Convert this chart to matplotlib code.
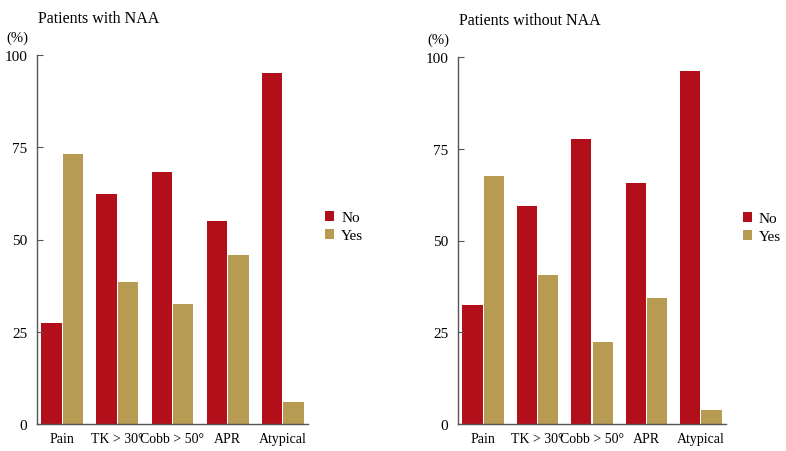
import matplotlib.pyplot as plt
import numpy as np

plt.rcParams['font.family'] = ['Liberation Serif', 'DejaVu Serif']

categories = ["Pain", "TK > 30°", "Cobb > 50°", "APR", "Atypical"]
with_no = [27.4, 62.3, 68.3, 54.9, 95.2]
with_yes = [73.2, 38.4, 32.5, 45.8, 5.9]
without_no = [32.3, 59.4, 77.6, 65.7, 96.1]
without_yes = [67.7, 40.6, 22.3, 34.3, 3.9]

red = "#B30F1B"
tan = "#B89B53"

fig = plt.figure(figsize=(7.86, 4.52), dpi=100)

panels = [
    ("Patients with NAA", with_no, with_yes, [37 / 786, 1 - 425 / 452, 271 / 786, 369 / 452]),
    ("Patients without NAA", without_no, without_yes, [458 / 786, 1 - 425 / 452, 268 / 786, 367 / 452]),
]

x = np.arange(len(categories))
for title, no, yes, rect in panels:
    ax = fig.add_axes(rect)
    ax.bar(x - 0.195, no, width=0.37, color=red, label="No")
    ax.bar(x + 0.195, yes, width=0.37, color=tan, label="Yes")
    ax.set_xlim(-0.46, 4.46)
    ax.set_ylim(0, 100)
    ax.set_yticks([0, 25, 50, 75, 100])
    ax.set_xticks(x)
    ax.set_xticklabels(categories)
    ax.tick_params(axis="y", direction="in", length=4, color="#555555", labelsize=11, pad=7)
    ax.tick_params(axis="x", length=0, labelsize=10, pad=6)
    for s in ["top", "right"]:
        ax.spines[s].set_visible(False)
    for s in ["left", "bottom"]:
        ax.spines[s].set_color("#555555")
        ax.spines[s].set_linewidth(1.0)
    # panel title and unit label above the y axis
    ax.text(0.005, 1.1, title, transform=ax.transAxes, fontsize=11.5, ha="left", va="center")
    ax.text(-0.072, 1.047, "(%)", transform=ax.transAxes, fontsize=10.5, ha="center", va="center")
    ax.legend(loc="center left", bbox_to_anchor=(1.012, 0.535), frameon=False, fontsize=11,
              handlelength=0.6, handleheight=0.6, handletextpad=0.45, labelspacing=0.3)

fig.savefig("out.png", dpi=100)
